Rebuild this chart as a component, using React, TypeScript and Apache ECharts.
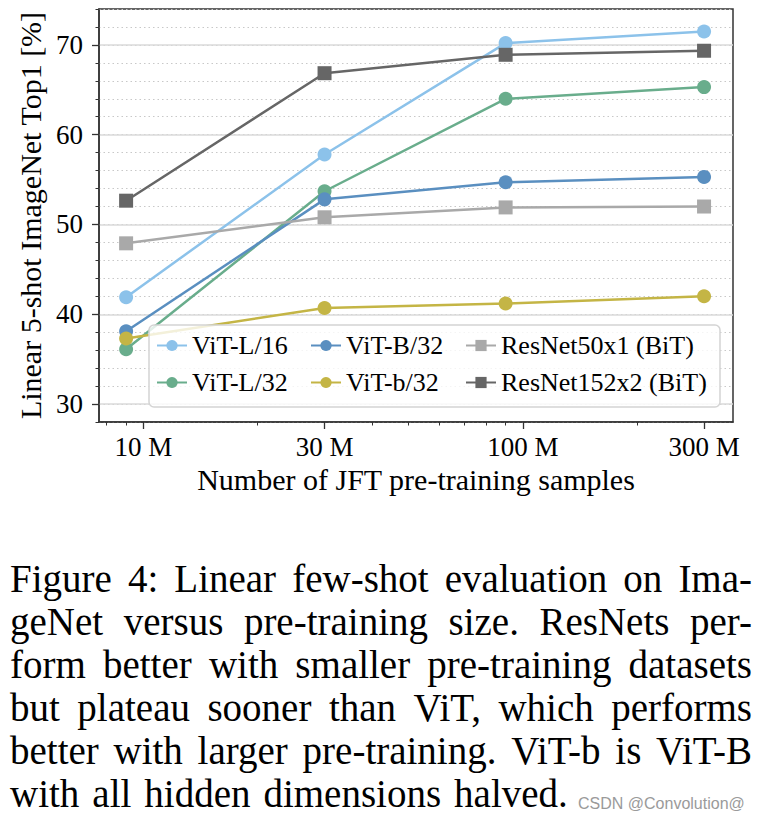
import React, { useEffect, useRef } from 'react';
import * as echarts from 'echarts';

// JFT pre-training samples (millions)
const SAMPLES = [9, 30, 90, 300];
const VIT_L16 = [41.9, 57.8, 70.2, 71.5];
const VIT_L32 = [36.1, 53.7, 64.0, 65.3];
const VIT_B32 = [38.1, 52.8, 54.7, 55.3];
const VIT_b32 = [37.3, 40.7, 41.2, 42.0];
const RN50X1 = [47.9, 50.8, 51.9, 52.0];
const RN152X2 = [52.65, 66.85, 68.9, 69.35];

const X_TICKS = [10, 30, 100, 300];
const X_MINOR_TICKS = [8, 9, 20, 40, 50, 60, 70, 80, 90, 200];
const Y_TICKS = [30, 40, 50, 60, 70];

const SERIES_NAMES = ['ViT-L/16', 'ViT-L/32', 'ViT-B/32', 'ViT-b/32', 'ResNet50x1 (BiT)', 'ResNet152x2 (BiT)'];
const LEGEND_COLUMNS = [
  ['ViT-L/16', 'ViT-L/32'],
  ['ViT-B/32', 'ViT-b/32'],
  ['ResNet50x1 (BiT)', 'ResNet152x2 (BiT)'],
];

const CAPTION_LINES = [
  'Figure 4: Linear few-shot evaluation on Ima-',
  'geNet versus pre-training size. ResNets per-',
  'form better with smaller pre-training datasets',
  'but plateau sooner than ViT, which performs',
  'better with larger pre-training. ViT-b is ViT-B',
  'with all hidden dimensions halved.',
];
const WATERMARK = 'CSDN @Convolution@';

const SERIF = 'Liberation Serif';

export default function App() {
  const ref = useRef<HTMLDivElement>(null);

  useEffect(() => {
    if (!ref.current) return;
    const chart = echarts.init(ref.current, undefined, { renderer: 'svg' });

    const values = [VIT_L16, VIT_L32, VIT_B32, VIT_b32, RN50X1, RN152X2];
    const colors = ['#8cc2ea', '#69ad8c', '#5a8fc0', '#c4b545', '#a9a9a9', '#666666'];
    const symbols = ['circle', 'circle', 'circle', 'circle', 'rect', 'rect'];

    const series = SERIES_NAMES.map((name, i) => ({
      name,
      type: 'line',
      xAxisIndex: 0,
      yAxisIndex: 0,
      data: SAMPLES.map((s, j) => [s, values[i][j]]),
      symbol: symbols[i],
      symbolSize: 14,
      showSymbol: true,
      color: colors[i],
      lineStyle: { width: 2.5, color: colors[i] },
      itemStyle: { color: colors[i] },
      z: 3,
    }));

    // caption, justified word by word
    const FS = 39;
    const LEFT = 10;
    const RIGHT = 752;
    const canvas = document.createElement('canvas');
    const ctx = canvas.getContext('2d')!;
    ctx.font = `${FS}px Liberation Serif`;
    const captionEls: any[] = [];
    CAPTION_LINES.forEach((line, i) => {
      const words = line.split(' ');
      const widths = words.map((w) => ctx.measureText(w).width);
      const total = widths.reduce((a, b) => a + b, 0);
      const last = i === CAPTION_LINES.length - 1;
      const gap = last ? FS * 0.333 : (RIGHT - LEFT - total) / (words.length - 1);
      const baseline = 592 + i * 42.9;
      let x = LEFT;
      words.forEach((w, j) => {
        captionEls.push({
          type: 'text',
          x,
          y: baseline - 0.3375 * FS,
          silent: true,
          style: {
            text: w,
            fill: '#000',
            fontSize: FS,
            fontFamily: SERIF,
            align: 'left',
            verticalAlign: 'middle',
          },
        });
        x += widths[j] + gap;
      });
    });

    const option: any = {
      animation: false,
      backgroundColor: '#fff',
      textStyle: { fontFamily: SERIF },
      grid: {
        left: 99,
        right: 31,
        top: 9,
        bottom: 397,
        show: true,
        borderColor: '#333',
        borderWidth: 1.5,
        backgroundColor: 'transparent',
      },
      xAxis: [
        {
          type: 'log',
          logBase: 10,
          min: 7.635,
          max: 357.6,
          position: 'bottom',
          axisLine: { show: true, lineStyle: { color: '#333', width: 1.5 } },
          axisTick: { show: true, customValues: X_TICKS, length: 7, lineStyle: { color: '#333', width: 1.3 } },
          axisLabel: {
            customValues: X_TICKS,
            formatter: (v: number) => `${Math.round(v)} M`,
            fontSize: 27,
            color: '#000',
            margin: 11,
            fontFamily: SERIF,
          },
          splitLine: { show: false },
          minorTick: { show: false },
          name: 'Number of JFT pre-training samples',
          nameLocation: 'middle',
          nameGap: 40,
          nameTextStyle: { fontSize: 30, color: '#000', fontFamily: SERIF },
        },
        {
          type: 'log',
          logBase: 10,
          min: 7.635,
          max: 357.6,
          position: 'bottom',
          axisLine: { show: false },
          axisTick: { show: true, customValues: X_MINOR_TICKS, length: 3.5, lineStyle: { color: '#333', width: 1 } },
          axisLabel: { show: false },
          splitLine: { show: false },
        },
      ],
      yAxis: [
        {
          type: 'value',
          min: 28,
          max: 74,
          interval: 2,
          position: 'left',
          axisLine: { show: true, lineStyle: { color: '#333', width: 1.5 } },
          axisTick: { show: true, length: 3.5, lineStyle: { color: '#333', width: 1 } },
          axisLabel: { show: false },
          splitLine: { show: true, lineStyle: { color: '#c8c8c8', width: 1, type: [1.5, 3] } },
        },
        {
          type: 'value',
          min: 28,
          max: 74,
          position: 'left',
          axisLine: { show: false },
          axisTick: { show: true, customValues: Y_TICKS, length: 7, lineStyle: { color: '#333', width: 1.3 } },
          axisLabel: {
            customValues: Y_TICKS,
            fontSize: 27,
            color: '#000',
            margin: 16,
            fontFamily: SERIF,
          },
          splitLine: { show: true, lineStyle: { color: '#dadada', width: 1.5, type: 'solid' } },
          name: 'Linear 5-shot ImageNet Top1 [%]',
          nameLocation: 'middle',
          nameGap: 45,
          nameTextStyle: { fontSize: 30, color: '#000', fontFamily: SERIF },
        },
      ],
      legend: LEGEND_COLUMNS.map((names, c) => ({
        data: names,
        orient: 'vertical',
        left: [156, 310, 465][c],
        top: 332,
        itemGap: 10,
        itemWidth: 30,
        itemHeight: 14,
        padding: 0,
        selectedMode: false,
        z: 12,
        textStyle: { fontSize: 26, color: '#000', fontFamily: SERIF, lineHeight: 27 },
      })),
      graphic: [
        {
          type: 'rect',
          z: 10,
          silent: true,
          shape: { x: 149, y: 325, width: 571, height: 82, r: 5 },
          style: { fill: 'rgba(255,255,255,0.8)', stroke: '#d4d4d4', lineWidth: 1.5 },
        },
        ...captionEls,
        {
          type: 'text',
          x: 578,
          y: 803,
          silent: true,
          style: {
            text: WATERMARK,
            fill: '#9a9a9a',
            fontSize: 16,
            fontFamily: 'Liberation Sans',
            align: 'left',
            verticalAlign: 'middle',
          },
        },
      ],
      series,
    };

    chart.setOption(option);
    return () => chart.dispose();
  }, []);

  return (
    <div
      ref={ref}
      style={{ position: 'fixed', left: 0, top: 0, width: 764, height: 819, background: '#fff' }}
    />
  );
}
